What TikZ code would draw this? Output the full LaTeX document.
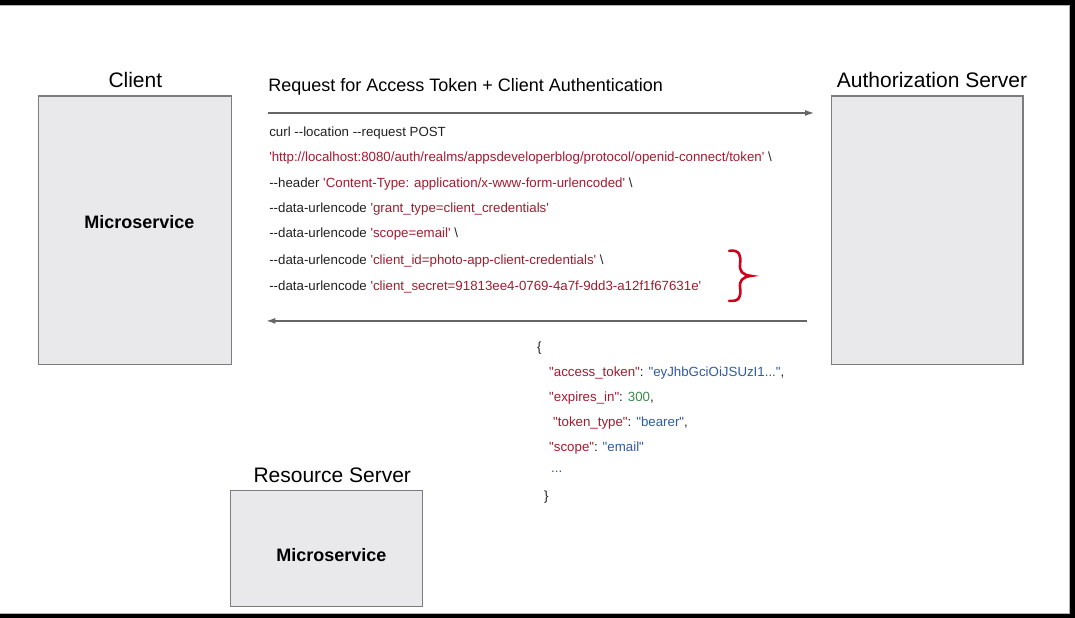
\documentclass[tikz,border=0pt]{standalone}
\usepackage{fontspec}
\usetikzlibrary{arrows.meta}
% plain Arial-width font, no TeX ligatures so -- and ' stay literal
\newfontfamily\arial{Liberation Sans}
\definecolor{boxfill}{HTML}{E9E8EB}
\definecolor{boxline}{HTML}{7C7C7C}
\definecolor{codeblack}{HTML}{222222}
\definecolor{codered}{HTML}{A31C2F}
\definecolor{jsonblue}{HTML}{2F5C9F}
\definecolor{jsongreen}{HTML}{3A8B4B}
\definecolor{bracered}{HTML}{D0021B}
\definecolor{arrowgray}{HTML}{666666}
\newcommand{\sq}{'}
\begin{document}
\begin{tikzpicture}[x=1pt,y=-1pt,
  every node/.style={inner sep=0pt, outer sep=0pt},
  svcbox/.style={draw=boxline, line width=1.1pt, fill=boxfill},
  title/.style={font=\arial\fontsize{21}{24}\selectfont, text=black},
  svclabel/.style={font=\arial\bfseries\fontsize{18}{21}\selectfont, text=black},
  codeline/.style={anchor=west, font=\arial\fontsize{13.3}{16}\selectfont, text=codeblack},
  flow/.style={draw=arrowgray, line width=1.4pt, -{Latex[length=9pt,width=6pt]}},
  braceline/.style={draw=bracered, line width=2.6pt, line cap=round}
]
% screen frame
\fill[black] (0,0) rectangle (1075,618);
\fill[white] (0,5) rectangle (1069,614);
\draw[gray!60, line width=0.8pt] (0,5.4) -- (1069,5.4) -- (1069,614) -- (0,614);
\useasboundingbox (0,0) rectangle (1075,618);

% boxes
\draw[svcbox] (38,96) rectangle (231,365);
\node[svclabel] (clientsvc) at (139,222) {Microservice};
\node[title] (clienttitle) at (135,80) {Client};

\draw[svcbox] (831,96) rectangle (1023,365);
\node[title] (authtitle) at (932,80) {Authorization Server};

\draw[svcbox] (230,491) rectangle (422,607);
\node[svclabel] (ressvc) at (331,555) {Microservice};
\node[title] (restitle) at (332,475) {Resource Server};

% request arrow
\node[anchor=west, font=\arial\fontsize{18}{21}\selectfont] (reqlabel) at (268,87)
  {Request for Access Token + Client Authentication};
\coordinate (reqstart) at (268,113);
\coordinate (reqend) at (814,113);
\draw[flow] (reqstart) -- (reqend);

% curl command
\node[codeline] (c1) at (269,133) {curl --location --request POST};
\node[codeline] (c2) at (269,158) {\color{codered}\sq http://localhost:8080/auth/realms/appsdeveloperblog/protocol/openid-connect/token\sq\ \color{codeblack}\textbackslash};
\node[codeline] (c3) at (269,184) {--header \color{codered}\sq Content-Type: application/x-www-form-urlencoded\sq\ \color{codeblack}\textbackslash};
\node[codeline] (c4) at (269,209) {--data-urlencode \color{codered}\sq grant\_type=client\_credentials\sq};
\node[codeline] (c5) at (269,234) {--data-urlencode \color{codered}\sq scope=email\sq\ \color{codeblack}\textbackslash};
\node[codeline] (c6) at (269,261) {--data-urlencode \color{codered}\sq client\_id=photo-app-client-credentials\sq\ \color{codeblack}\textbackslash};
\node[codeline] (c7) at (269,287) {--data-urlencode \color{codered}\sq client\_secret=91813ee4-0769-4a7f-9dd3-a12f1f67631e\sq};

% red curly brace
\draw[braceline] (729,251) .. controls (740,249) and (741,257) .. (740,264)
  .. controls (739,271) and (742,275) .. (751,276)
  .. controls (742,277) and (739,281) .. (740,288)
  .. controls (741,296) and (740,302) .. (729,301);

% response arrow
\coordinate (respstart) at (807,321);
\coordinate (respend) at (266,321);
\draw[flow] (respstart) -- (respend);

% token response
\node[codeline] (j0) at (537,348) {\{};
\node[codeline] (j1) at (549,373) {\color{codered}"access\_token"\color{codeblack}: \color{jsonblue}"eyJhbGciOiJSUzI1..."\color{codeblack},};
\node[codeline] (j2) at (549,398) {\color{codered}"expires\_in"\color{codeblack}: \color{jsongreen}300\color{codeblack},};
\node[codeline] (j3) at (553,423) {\color{codered}"token\_type"\color{codeblack}: \color{jsonblue}"bearer"\color{codeblack},};
\node[codeline] (j4) at (549,448) {\color{codered}"scope"\color{codeblack}: \color{jsonblue}"email"};
\node[codeline, text=jsonblue] (j5) at (551,472) {...};
\node[codeline] (j6) at (544,497) {\}};
\end{tikzpicture}
\end{document}
